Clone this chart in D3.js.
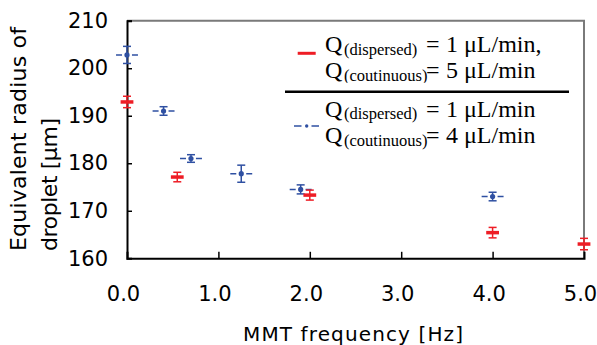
<!DOCTYPE html>
<html><head><meta charset="utf-8">
<script src="https://cdn.jsdelivr.net/npm/d3@7"></script>
<style>body{margin:0;background:#fff}svg{display:block}</style>
</head><body>
<svg id="c" width="597" height="345"></svg>
<script>
const xTicks = [0, 1, 2, 3, 4, 5];
const yTicks = [160, 170, 180, 190, 200, 210];

// Series 1: Q(dispersed)=1, Q(coutinuous)=5 (red)
const redX    = [0, 0.55, 2.0, 4.0, 5.0];
const redY    = [192.9, 177.1, 173.3, 165.4, 163.0];
const redYErr = [1.2, 1.0, 1.05, 1.1, 1.2];
const redXErr = [0.07, 0.07, 0.07, 0.07, 0.07];

// Series 2: Q(dispersed)=1, Q(coutinuous)=4 (blue)
const blueX    = [0, 0.4, 0.7, 1.25, 1.9, 4.0];
const blueY    = [202.8, 191.0, 181.0, 177.8, 174.5, 173.0];
const blueYErr = [1.8, 0.9, 0.8, 1.8, 0.95, 0.9];
const blueXErr = [0.12, 0.12, 0.12, 0.12, 0.12, 0.12];

const xTitle = "MMT frequency [Hz]";
const yTitle = ["Equivalent radius of", "droplet [\u03bcm]"];

const W = 597, H = 345;
const m = {left: 127, right: 13, top: 20.7, bottom: 86.7};
const RED = "#ee1d25", BLUE = "#2f50a2";

const svg = d3.select("#c");
const x = d3.scaleLinear().domain([0, 5]).range([m.left, W - m.right]);
const y = d3.scaleLinear().domain([160, 210]).range([H - m.bottom, m.top]);

// gray frame (top & right)
svg.append("path")
  .attr("d", `M${x(0)},${y(210)}H${x(5)}V${y(160)}`)
  .attr("fill", "none").attr("stroke", "#7a7a7a").attr("stroke-width", 2);

// axes
const sans = "'DejaVu Sans', 'Liberation Sans', sans-serif";
const yAxis = d3.axisLeft(y).tickValues(yTicks).tickSize(-5).tickPadding(19).tickFormat(d3.format("d"));
const gy = svg.append("g").attr("transform", `translate(${x(0)},0)`).call(yAxis);
const xAxis = d3.axisBottom(x).tickValues(xTicks).tickSize(-6.5).tickPadding(28).tickFormat(d3.format(".1f"));
const gx = svg.append("g").attr("transform", `translate(0,${y(160)})`).call(xAxis);
[gx, gy].forEach(g => {
  g.select(".domain").attr("stroke", "#000").attr("stroke-width", 2);
  g.selectAll(".tick line").attr("stroke", "#000").attr("stroke-width", 1.5);
  g.selectAll(".tick text").attr("fill", "#000").style("font-family", sans).style("font-size", "21px");
});
gx.selectAll(".tick text").attr("dx", -4);
gx.selectAll(".tick").filter(d => d === 0 || d === 5).select("line").remove();
gy.selectAll(".tick").filter(d => d === 160).select("line").remove();

// axis titles
svg.append("text").attr("x", 243).attr("y", 341)
  .attr("textLength", 220).attr("lengthAdjust", "spacing")
  .style("font-family", sans).style("font-size", "20px").text(xTitle);
const yt = [26, 57];
const ytLen = [224, 133];
yTitle.forEach((t, i) => {
  svg.append("text")
    .attr("transform", `translate(${yt[i]},251) rotate(-90)`)
    .attr("textLength", ytLen[i]).attr("lengthAdjust", "spacing")
    .style("font-family", sans).style("font-size", "22px").text(t);
});

// blue series
const blue = blueX.map((v, i) => ({x: v, y: blueY[i], ey: blueYErr[i], ex: blueXErr[i]}));
const gb = svg.append("g").attr("stroke", BLUE).attr("stroke-width", 1.5);
blue.forEach(d => {
  const cx = x(d.x), cy = y(d.y);
  const x1 = x(d.x - d.ex), x2 = x(d.x + d.ex);
  const len = x2 - x1;
  gb.append("line").attr("x1", x1).attr("x2", x2).attr("y1", cy).attr("y2", cy)
    .attr("stroke-dasharray", `6,${len - 12},6`);
  gb.append("line").attr("x1", cx).attr("x2", cx).attr("y1", y(d.y - d.ey)).attr("y2", y(d.y + d.ey));
  [d.y - d.ey, d.y + d.ey].forEach(v => gb.append("line").attr("x1", cx - 4).attr("x2", cx + 4).attr("y1", y(v)).attr("y2", y(v)));
  gb.append("circle").attr("cx", cx).attr("cy", cy).attr("r", 2.6).attr("fill", BLUE).attr("stroke", "none");
});

// red series
const red = redX.map((v, i) => ({x: v, y: redY[i], ey: redYErr[i], ex: redXErr[i]}));
const gr = svg.append("g").attr("stroke", RED);
red.forEach(d => {
  const cx = x(d.x), cy = y(d.y);
  gr.append("line").attr("x1", cx).attr("x2", cx).attr("y1", y(d.y - d.ey)).attr("y2", y(d.y + d.ey)).attr("stroke-width", 1.5);
  [d.y - d.ey, d.y + d.ey].forEach(v => gr.append("line").attr("x1", cx - 4).attr("x2", cx + 4).attr("y1", y(v)).attr("y2", y(v)).attr("stroke-width", 1.5));
  gr.append("line").attr("x1", x(d.x - d.ex)).attr("x2", x(d.x + d.ex)).attr("y1", cy).attr("y2", cy).attr("stroke-width", 3.5);
});

// legend
const serif = "'Liberation Serif', 'Times New Roman', serif";
const lg = svg.append("g").style("font-family", serif).attr("fill", "#000");
svg.append("defs").append("clipPath").attr("id", "clip2")
  .append("rect").attr("x", 280).attr("y", 60).attr("width", 300).attr("height", 22.7);
lg.append("line").attr("x1", 297.7).attr("x2", 315.7).attr("y1", 53.3).attr("y2", 53.3)
  .attr("stroke", RED).attr("stroke-width", 3);
lg.append("line").attr("x1", 294).attr("x2", 319).attr("y1", 126).attr("y2", 126)
  .attr("stroke", BLUE).attr("stroke-width", 1.5).attr("stroke-dasharray", "7.5,17.5");
lg.append("line").attr("x1", 294).attr("x2", 319).attr("y1", 126).attr("y2", 126)
  .attr("stroke", BLUE).attr("stroke-width", 1.5).attr("stroke-dasharray", "0,17.5,7.5");
lg.append("circle").attr("cx", 306.7).attr("cy", 126).attr("r", 1.7).attr("fill", BLUE);
lg.append("line").attr("x1", 285).attr("x2", 569).attr("y1", 91.7).attr("y2", 91.7)
  .attr("stroke", "#000").attr("stroke-width", 2.5);

const legendRows = [
  {base: 52, sub: "(dispersed)", val: "1", unit: "\u03bcL/min,", clip: false},
  {base: 78.3, sub: "(coutinuous)", val: "5", unit: "\u03bcL/min", clip: true},
  {base: 116.7, sub: "(dispersed)", val: "1", unit: "\u03bcL/min", clip: false},
  {base: 143.3, sub: "(coutinuous)", val: "4", unit: "\u03bcL/min", clip: false}
];
legendRows.forEach(r => {
  const t = lg.append("text").attr("y", r.base).style("font-size", "24px");
  t.append("tspan").attr("x", 325).text("Q");
  const s = lg.append("text").attr("x", 344).attr("y", r.base + 2.5).style("font-size", "16.5px").text(r.sub);
  if (r.clip) s.attr("clip-path", "url(#clip2)");
  t.append("tspan").attr("x", 426).text("=");
  t.append("tspan").attr("x", 446).text(r.val);
  t.append("tspan").attr("x", 464).text(r.unit);
});
</script>
</body></html>
